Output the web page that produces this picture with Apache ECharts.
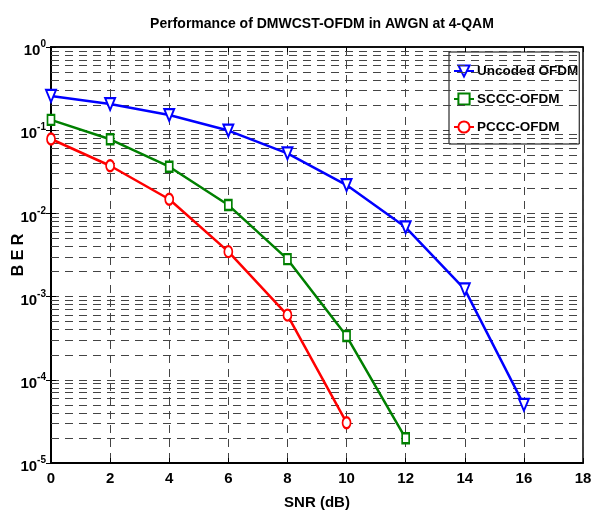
<!DOCTYPE html>
<html>
<head>
<meta charset="utf-8">
<script src="https://cdn.jsdelivr.net/npm/echarts@6/dist/echarts.min.js"></script>
<style>
html, body { margin: 0; padding: 0; background: #fff; }
#main { width: 592px; height: 514px; }
</style>
</head>
<body>
<div id="main"></div>
<script>
// data
var snr_uncoded = [0, 2, 4, 6, 8, 10, 12, 14, 16];
var ber_uncoded = [0.258, 0.206, 0.152, 0.099, 0.0527, 0.0219, 0.0068, 0.00122, 5.0e-5];
var snr_sccc = [0, 2, 4, 6, 8, 10, 12];
var ber_sccc = [0.133, 0.0778, 0.0364, 0.0126, 0.00282, 3.36e-4, 1.98e-5];
var snr_pccc = [0, 2, 4, 6, 8, 10];
var ber_pccc = [0.0784, 0.0374, 0.0148, 0.00347, 6.0e-4, 3.05e-5];

var decades = [-5, -4, -3, -2, -1, 0];

var FONT = "'Liberation Sans', Arial, sans-serif";
var GRID_COLOR = '#444';
var DASH = [8, 6];

// minor grid lines 2..9 x 10^n (log grid like matlab)
var minor_lines = [];
for (var i = 0; i < decades.length - 1; i++) {
	for (var k = 2; k <= 9; k++) {
		minor_lines.push({ yAxis: k * Math.pow(10, decades[i]) });
	}
}

function pairs(xs, ys) {
	var out = [];
	for (var i = 0; i < xs.length; i++) out.push([xs[i], ys[i]]);
	return out;
}

var chart = echarts.init(document.getElementById('main'));
var option = {
	animation: false,
	backgroundColor: '#fff',
	title: {
		text: 'Performance of DMWCST-OFDM in AWGN at 4-QAM',
		left: 317,
		top: 12,
		textAlign: 'center',
		textStyle: { fontFamily: FONT, fontWeight: 'bold', fontSize: 14, color: '#000' }
	},
	grid: {
		left: 51, right: 9, top: 47, bottom: 51,
		outerBoundsMode: 'none',
		containLabel: false,
		show: true, borderColor: '#000', borderWidth: 1.5, backgroundColor: '#fff'
	},
	legend: {
		orient: 'vertical',
		left: 449,
		top: 52,
		padding: [12, 1, 10, 4],
		itemGap: 14,
		itemWidth: 20,
		itemHeight: 14,
		backgroundColor: '#fff',
		borderColor: '#000',
		borderWidth: 1,
		textStyle: { fontFamily: FONT, fontWeight: 'bold', fontSize: 13.5, color: '#000', padding: [0, 0, 0, -2] },
		data: ['Uncoded OFDM', 'SCCC-OFDM', 'PCCC-OFDM']
	},
	xAxis: [{
		type: 'value',
		min: 0,
		max: 18,
		interval: 2,
		name: 'SNR (dB)',
		nameLocation: 'middle',
		nameGap: 32,
		nameTextStyle: { fontFamily: FONT, fontWeight: 'bold', fontSize: 15, color: '#000' },
		axisLine: { lineStyle: { color: '#000', width: 2 } },
		axisTick: { inside: true, length: 5, lineStyle: { color: '#000' } },
		axisLabel: { fontFamily: FONT, fontWeight: 'bold', fontSize: 15, color: '#000', margin: 8 },
		splitLine: { show: true, lineStyle: { color: GRID_COLOR, type: DASH, width: 1 } }
	}, {
		type: 'value',
		position: 'top',
		min: 0,
		max: 18,
		interval: 2,
		axisLine: { lineStyle: { color: '#000', width: 1.5 } },
		axisTick: { inside: true, length: 5, lineStyle: { color: '#000' } },
		axisLabel: { show: false },
		splitLine: { show: false }
	}],
	yAxis: [{
		type: 'log',
		logBase: 10,
		min: 1e-5,
		max: 1,
		name: 'B E R',
		nameLocation: 'middle',
		nameGap: 24,
		nameMoveOverlap: false,
		nameTextStyle: { fontFamily: FONT, fontWeight: 'bold', fontSize: 16, color: '#000' },
		axisLine: { show: true, lineStyle: { color: '#000', width: 2 } },
		axisTick: { inside: true, length: 5, lineStyle: { color: '#000' } },
		axisLabel: {
			margin: 5,
			formatter: function (v) {
				var e = Math.round(Math.log10(v));
				return '{b|10}{s|' + e + '}';
			},
			rich: {
				b: { fontFamily: FONT, fontWeight: 'bold', fontSize: 15, color: '#000', verticalAlign: 'bottom', padding: [8, 0, 0, 0] },
				s: { fontFamily: FONT, fontWeight: 'bold', fontSize: 10, color: '#000', verticalAlign: 'bottom', padding: [0, 0, 9, 0] }
			}
		},
		splitLine: { show: true, lineStyle: { color: GRID_COLOR, type: DASH, width: 1 } }
	}, {
		type: 'log',
		logBase: 10,
		min: 1e-5,
		max: 1,
		position: 'right',
		axisLine: { show: true, lineStyle: { color: '#000', width: 1.5 } },
		axisTick: { inside: true, length: 5, lineStyle: { color: '#000' } },
		axisLabel: { show: false },
		splitLine: { show: false }
	}],
	series: [
		{
			name: 'grid',
			type: 'line',
			data: [],
			z: 1,
			silent: true,
			markLine: {
				silent: true,
				symbol: 'none',
				precision: 10,
				label: { show: false },
				lineStyle: { color: GRID_COLOR, type: DASH, width: 1 },
				data: minor_lines
			}
		},
		{
			name: 'Uncoded OFDM',
			type: 'line',
			z: 5,
			data: pairs(snr_uncoded, ber_uncoded),
			symbol: 'emptyTriangle',
			symbolRotate: 180,
			symbolSize: [10, 12],
			lineStyle: { color: '#0000ff', width: 2.5 },
			itemStyle: { color: '#0000ff', borderWidth: 2 }
		},
		{
			name: 'SCCC-OFDM',
			type: 'line',
			z: 5,
			data: pairs(snr_sccc, ber_sccc),
			symbol: 'emptyRect',
			symbolSize: [7, 10],
			lineStyle: { color: '#008000', width: 2.5 },
			itemStyle: { color: '#008000', borderWidth: 2 }
		},
		{
			name: 'PCCC-OFDM',
			type: 'line',
			z: 5,
			data: pairs(snr_pccc, ber_pccc),
			symbol: 'emptyCircle',
			symbolSize: [8, 11],
			lineStyle: { color: '#ff0000', width: 2.5 },
			itemStyle: { color: '#ff0000', borderWidth: 2 }
		}
	]
};
chart.setOption(option);
</script>
</body>
</html>
